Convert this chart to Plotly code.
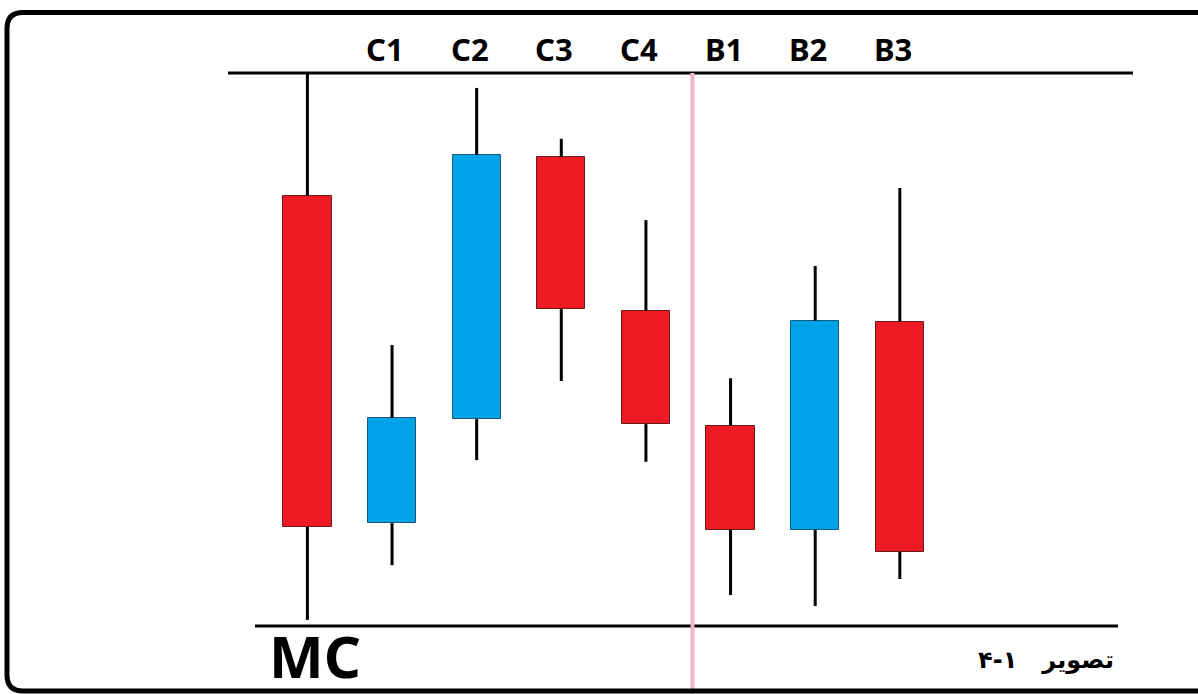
import plotly.graph_objects as go

# ---- data (price units: top rule = 100, bottom rule = 0) ----
candles = ["MC", "C1", "C2", "C3", "C4", "B1", "B2", "B3"]
open_ = [77.8, 18.6, 37.4, 84.8, 57.0, 36.2, 17.4, 55.0]
high = [100.0, 50.8, 97.3, 88.1, 73.4, 44.8, 65.1, 79.2]
low = [1.1, 11.0, 30.0, 44.3, 29.7, 5.6, 3.6, 8.5]
close = [17.9, 37.6, 85.2, 57.3, 36.5, 17.4, 55.2, 13.4]
top_labels = ["C1", "C2", "C3", "C4", "B1", "B2", "B3"]
bottom_label = "MC"
caption = "تصویر\u00a0\u00a0\u00a0۱-۴"

W, H = 1198, 694
RED = "#ED1C24"
BLUE = "#00A2E8"

fig = go.Figure()

bases = [min(o, c) for o, c in zip(open_, close)]
tops = [max(o, c) for o, c in zip(open_, close)]
heights = [t - b for t, b in zip(tops, bases)]

# wicks (upper and lower segments, so bodies stay on top)
wx, wy = [], []
for c, lo, hi, b, t in zip(candles, low, high, bases, tops):
    wx += [c, c, None, c, c, None]
    wy += [t, hi, None, lo, b, None]
fig.add_trace(go.Scatter(x=wx, y=wy, mode="lines",
                         line=dict(color="black", width=3),
                         hoverinfo="skip", showlegend=False))

# bodies
colors = [BLUE if c >= o else RED for o, c in zip(open_, close)]
outlines = ["#1d5a80" if c >= o else "#6a1a1a" for o, c in zip(open_, close)]
fig.add_trace(go.Bar(x=candles, y=heights, base=bases, width=0.57,
                     marker=dict(color=colors, line=dict(color=outlines, width=1)),
                     hoverinfo="skip", showlegend=False))


def px(x):
    return x / W


def py(y):
    return 1 - y / H


def frame_path(l, t, r, b, rad):
    pts = [
        f"M {px(l + rad)},{py(t)}",
        f"L {px(r - rad)},{py(t)}",
        f"Q {px(r)},{py(t)} {px(r)},{py(t + rad)}",
        f"L {px(r)},{py(b - rad)}",
        f"Q {px(r)},{py(b)} {px(r - rad)},{py(b)}",
        f"L {px(l + rad)},{py(b)}",
        f"Q {px(l)},{py(b)} {px(l)},{py(b - rad)}",
        f"L {px(l)},{py(t + rad)}",
        f"Q {px(l)},{py(t)} {px(l + rad)},{py(t)}",
        "Z",
    ]
    return " ".join(pts)


shapes = [
    dict(type="path", xref="paper", yref="paper",
         path=frame_path(7, 12.5, 1300, 691, 16),
         line=dict(color="black", width=5), layer="above"),
    dict(type="line", xref="paper", yref="y", x0=px(228), x1=px(1133), y0=100, y1=100,
         line=dict(color="black", width=3), layer="below"),
    dict(type="line", xref="paper", yref="y", x0=px(255), x1=px(1118), y0=0, y1=0,
         line=dict(color="black", width=3), layer="below"),
    dict(type="line", xref="x", yref="y", x0=4.55, x1=4.55, y0=-13, y1=100,
         line=dict(color="#F2B5C8", width=4), layer="below"),
]

annotations = []
for lab in top_labels:
    annotations.append(dict(x=lab, y=104.3, xref="x", yref="y", text=lab,
                            showarrow=False, xshift=-7, yanchor="middle",
                            font=dict(family="Noto Sans", size=31, color="black", weight="bold")))
annotations.append(dict(x=bottom_label, y=-5.4, xref="x", yref="y", text=bottom_label,
                        showarrow=False, xshift=8, yanchor="middle",
                        font=dict(family="Noto Sans", size=58, color="black", weight="bold")))
annotations.append(dict(x=px(1046), y=py(660), xref="paper", yref="paper", text=caption,
                        showarrow=False, xanchor="center", yanchor="middle",
                        font=dict(family="DejaVu Sans", size=24, color="black", weight="bold")))

fig.update_layout(
    width=W, height=H,
    margin=dict(l=0, r=0, t=0, b=0),
    paper_bgcolor="white", plot_bgcolor="white",
    showlegend=False,
    xaxis=dict(type="category", range=[-3.632, 10.523], visible=False, fixedrange=True),
    yaxis=dict(range=[-12.3, 113.2], visible=False, fixedrange=True),
    shapes=shapes,
    annotations=annotations,
    bargap=0,
)

fig.write_html("out.html", config={"displayModeBar": False},
               post_script="document.body.style.margin='0';")
